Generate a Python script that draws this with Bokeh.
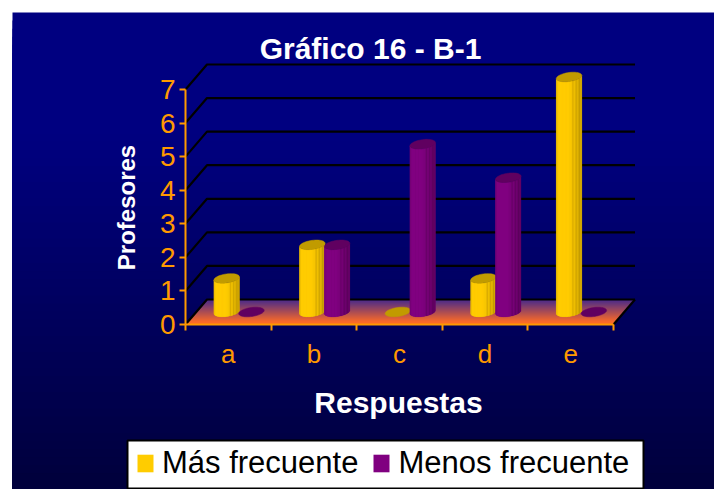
import numpy as np
from bokeh.embed import file_html
from bokeh.resources import INLINE
from bokeh.plotting import figure
from bokeh.models import Range1d, FixedTicker, Legend, LegendItem, Label

CATEGORIES = ["a", "b", "c", "d", "e"]
MAS_FRECUENTE = [1, 2, 0, 1, 7]
MENOS_FRECUENTE = [0, 2, 5, 4, 0]
Y_TICKS = [0, 1, 2, 3, 4, 5, 6, 7]
SERIES_NAMES = ["Más frecuente", "Menos frecuente"]
TITLE = "Gráfico 16 - B-1"
X_TITLE = "Respuestas"
Y_TITLE = "Profesores"

W, H = 714, 489
PAGE = 0
X0, Y0 = 185.0, 324.0          # pixels of the data origin
PX_X, PX_Y = 85.6, 33.57       # pixels per category / per unit
DEPTH_X, DEPTH_Y = 21.5, 25.0  # oblique wall offset in pixels
ORANGE = "#ff9900"
FONT = "Liberation Sans"

def dx(px): return (px - X0) / PX_X
def dy(py): return (Y0 - py) / PX_Y

p = figure(width=W, height=H, output_backend="svg", toolbar_location=None,
           x_range=Range1d(dx(PAGE), dx(PAGE + W)), y_range=Range1d(dy(PAGE + H), dy(PAGE)),
           min_border=0, outline_line_color=None, background_fill_color="white",
           border_fill_color="white", x_axis_location="below", y_axis_location="left")
p.grid.visible = False

def mix(c1, c2, f):
    a = [int(c1[i:i + 2], 16) for i in (1, 3, 5)]
    b = [int(c2[i:i + 2], 16) for i in (1, 3, 5)]
    return "#%02x%02x%02x" % tuple(int(round(u + (v - u) * f)) for u, v in zip(a, b))

# background gradient: each band runs to the bottom and the next one paints over it
edges = np.linspace(12, PAGE + H, 60)
p.quad(left=dx(12), right=dx(PAGE + W), top=dy(edges[:-1]), bottom=dy(PAGE + H),
       fill_color=[mix("#000080", "#00003e", max(0, (e - 130) / 340)) for e in edges[:-1]],
       line_color=None)

# floor gradient
fy = np.linspace(Y0 - DEPTH_Y, Y0, 26)
xs_f, ys_f, cs_f = [], [], []
for a, b in zip(fy[:-1], fy[1:]):
    ka, kb = (Y0 - a) / DEPTH_Y * DEPTH_X, (Y0 - b) / DEPTH_Y * DEPTH_X
    xs_f.append([dx(X0 + ka), dx(X0 + PX_X * 5 + ka), dx(X0 + PX_X * 5), dx(X0)])
    ys_f.append([dy(a), dy(a), dy(Y0), dy(Y0)])
    f = (a - fy[0]) / DEPTH_Y
    cs_f.append(mix("#4a2a8a", "#fa6a28", min(1, f * 1.15)))
p.patches(xs_f, ys_f, fill_color=cs_f, line_color=None)

# wall grid
n = len(CATEGORIES)
ox, oy = DEPTH_X / PX_X, DEPTH_Y / PX_Y
for v in Y_TICKS:
    p.line([0, ox, n + ox], [v, v + oy, v + oy], line_color="black", line_width=2.2)
p.line([n, n + ox], [0, oy], line_color="black", line_width=2.2)

# cylinders
R, A, B = 12.0, 4.3, 4.8
T0 = np.arctan2(A, R)
MID_X, MID_Y = DEPTH_X / 2 / PX_X, DEPTH_Y / 2 / PX_Y
OFF = 12.4 / PX_X

def ring(cx, v, ts):
    return (cx + (R * np.cos(ts) + A * np.sin(ts)) / PX_X, v + MID_Y + B * np.sin(ts) / PX_Y)

STRIPES = [0.12, 0.0, 0.0, 0.0, 0.0, 0.0, 0.0, 0.0, 0.03, 0.06, 0.30, 0.14, 0.38, 0.26, 0.50, 0.40]
renderers = []
for vals, sgn, base, dark, top in ((MAS_FRECUENTE, -1, "#ffcc00", "#8a6c00", "#c19b00"),
                                   (MENOS_FRECUENTE, 1, "#800080", "#3a003a", "#600060")):
    sil_x, sil_y, st_x, st_y, st_c, top_x, top_y = [], [], [], [], [], [], []
    for i, v in enumerate(vals):
        cx = i + 0.5 + sgn * OFF + MID_X
        if v > 0:
            ts = np.linspace(np.pi + T0, 2 * np.pi + T0, 40)
            bx, by = ring(cx, 0, ts)
            tx, ty = ring(cx, v, ts[::-1])
            sil_x.append(list(bx) + list(tx))
            sil_y.append(list(by) + list(ty))
            edges_t = np.linspace(0, 1, len(STRIPES) + 1)
            w = ts[-1] - ts[0]
            tb = ts[0] + np.arccos(1 - 2 * edges_t) / np.pi * w
            for j, s in enumerate(STRIPES):
                seg = np.linspace(tb[j], tb[j + 1], 5)
                ax, ay = ring(cx, 0, seg)
                qx, qy = ring(cx, v, seg[::-1])
                st_x.append(list(ax) + list(qx))
                st_y.append(list(ay) + list(qy))
                st_c.append(mix(base, dark, s))
        ts = np.linspace(0, 2 * np.pi, 50)
        ex, ey = ring(cx, v, ts)
        top_x.append(list(ex))
        top_y.append(list(ey))
    r = p.patches(sil_x, sil_y, fill_color=base, line_color=None)
    renderers.append(r)
    p.patches(st_x, st_y, fill_color=st_c, line_color=st_c, line_width=0.3)
    p.patches(top_x, top_y, fill_color=top, line_color=top, line_width=0.5)

# axes, real ones pinned at the origin
for ax in (p.xaxis[0], p.yaxis[0]):
    ax.fixed_location = 0
    ax.axis_line_color = ORANGE
    ax.axis_line_width = 2
    ax.major_tick_line_color = ORANGE
    ax.major_tick_line_width = 2
    ax.minor_tick_line_color = ORANGE
    ax.minor_tick_line_width = 2
    ax.major_label_text_color = ORANGE
    ax.major_label_text_font = FONT

xa = p.xaxis[0]
xa.bounds = (0, n)
xa.ticker = FixedTicker(ticks=[i + 0.5 for i in range(n)], minor_ticks=list(range(n + 1)))
xa.major_label_overrides = {i + 0.5: c for i, c in enumerate(CATEGORIES)}
xa.major_tick_in = 0
xa.major_tick_out = 0
xa.minor_tick_in = 0
xa.minor_tick_out = 6
xa.major_label_text_font_size = "26px"
xa.major_label_standoff = 8

ya = p.yaxis[0]
ya.bounds = (0, 7)
ya.ticker = FixedTicker(ticks=Y_TICKS)
ya.major_tick_in = 0
ya.major_tick_out = 6
ya.minor_tick_line_color = None
ya.major_label_text_font_size = "28px"
ya.major_label_standoff = 4

# titles
def label(txt, px, py, size, angle=0):
    p.add_layout(Label(x=dx(px), y=dy(py), text=txt, text_color="white", text_font=FONT,
                       text_font_style="bold", text_font_size=size, text_align="center",
                       text_baseline="middle", angle=angle))
label(TITLE, 370, 47.5, "30px")
label(X_TITLE, 398, 402, "30px")
label(Y_TITLE, 126, 207, "24px", np.pi / 2)

# legend frame drawn behind a borderless legend, so its inner spacing can differ per side
p.quad(left=dx(127), right=dx(643), top=dy(440), bottom=dy(488),
       fill_color="white", line_color="black", line_width=2, level="annotation")
legend = Legend(items=[LegendItem(label=SERIES_NAMES[k], renderers=[renderers[k]]) for k in (0, 1)],
                orientation="horizontal", location=(135, 8), margin=0, padding=4, spacing=13,
                label_text_font=FONT, label_text_font_size="31px", label_text_color="black",
                label_standoff=7, glyph_width=20, glyph_height=22,
                border_line_color=None, background_fill_alpha=0)
p.add_layout(legend, "center")

open("out.html", "w").write(file_html(p, INLINE))
